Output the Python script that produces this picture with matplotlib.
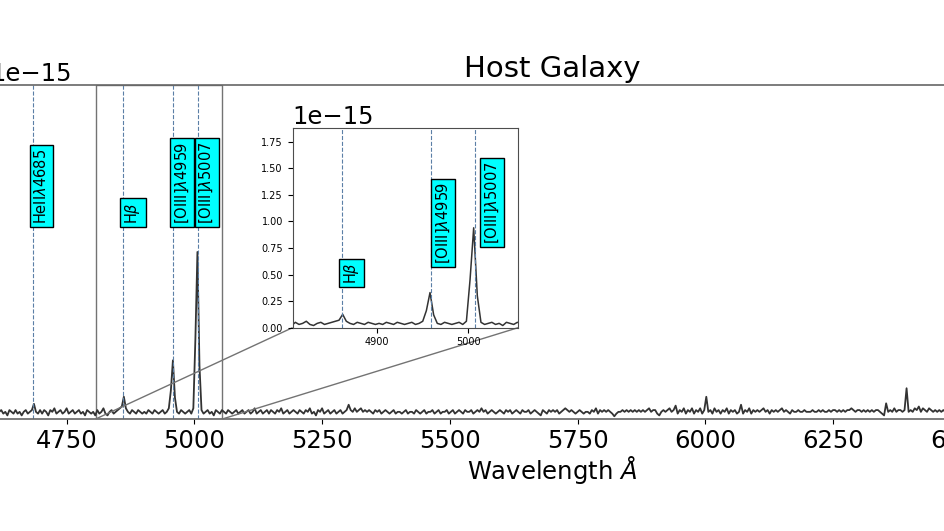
import numpy as np
import matplotlib
matplotlib.use("Agg")
import matplotlib.pyplot as plt
from mpl_toolkits.axes_grid1.inset_locator import mark_inset

# flux in units of 1e-15, sampled every 4 A starting at 4602 A
flux = [
    0.04, 0.03, 0.05, 0.02, 0.04, 0.05, 0.03, 0.04, 0.02, 0.05, 0.04, 0.03, 0.05, 0.03, 0.04, 0.02, 0.04, 0.05, 0.03, 0.04, 0.05, 0.085, 0.04, 0.03, 0.05,
    0.03, 0.05, 0.04, 0.02, 0.05, 0.04, 0.06, 0.03, 0.04, 0.05, 0.03, 0.04, 0.06, 0.03, 0.04, 0.05, 0.03, 0.04, 0.05, 0.03, 0.04, 0.02, 0.05, 0.04, 0.03,
    0.04, 0.02, 0.05, 0.03, 0.04, 0.06, 0.03, 0.02, 0.04, 0.05, 0.03, 0.04, 0.05, 0.06, 0.07, 0.125, 0.06, 0.04, 0.03, 0.05, 0.04, 0.03, 0.05, 0.04, 0.03,
    0.04, 0.03, 0.05, 0.04, 0.03, 0.05, 0.04, 0.03, 0.04, 0.05, 0.03, 0.04, 0.06, 0.16, 0.33, 0.12, 0.04, 0.03, 0.05, 0.04, 0.03, 0.04, 0.05, 0.03, 0.06,
    0.45, 0.94, 0.30, 0.05, 0.03, 0.04, 0.05, 0.03, 0.04, 0.02, 0.05, 0.04, 0.03, 0.05, 0.04, 0.03, 0.05, 0.04, 0.03, 0.04, 0.05, 0.03, 0.04, 0.05, 0.03,
    0.04, 0.05, 0.03, 0.04, 0.06, 0.03, 0.04, 0.05, 0.03, 0.04, 0.05, 0.03, 0.05, 0.04, 0.03, 0.05, 0.04, 0.06, 0.03, 0.04, 0.05, 0.03, 0.04, 0.05, 0.04,
    0.03, 0.05, 0.04, 0.03, 0.05, 0.04, 0.06, 0.03, 0.04, 0.02, 0.05, 0.04, 0.06, 0.03, 0.04, 0.05, 0.03, 0.04, 0.05, 0.03, 0.04, 0.05, 0.03, 0.04, 0.05,
    0.08, 0.05, 0.04, 0.06, 0.04, 0.05, 0.06, 0.04, 0.05, 0.04, 0.05, 0.04, 0.03, 0.05, 0.04, 0.05, 0.03, 0.04, 0.05, 0.04, 0.03, 0.04, 0.05, 0.03, 0.04,
    0.04, 0.03, 0.04, 0.05, 0.03, 0.04, 0.04, 0.03, 0.05, 0.04, 0.03, 0.04, 0.05, 0.03, 0.04, 0.04, 0.05, 0.03, 0.04, 0.05, 0.03, 0.04, 0.04, 0.05, 0.03,
    0.04, 0.05, 0.03, 0.04, 0.05, 0.04, 0.03, 0.05, 0.04, 0.04, 0.05, 0.03, 0.04, 0.05, 0.04, 0.06, 0.04, 0.05, 0.03, 0.04, 0.05, 0.04, 0.03, 0.04, 0.05,
    0.04, 0.03, 0.05, 0.04, 0.05, 0.03, 0.04, 0.05, 0.04, 0.03, 0.05, 0.04, 0.04, 0.05, 0.03, 0.04, 0.05, 0.04, 0.03, 0.02, 0.05, 0.04, 0.03, 0.05, 0.04,
    0.05, 0.04, 0.05, 0.03, 0.04, 0.05, 0.06, 0.05, 0.04, 0.05, 0.04, 0.03, 0.04, 0.05, 0.04, 0.03, 0.04, 0.04, 0.03, 0.05, 0.04, 0.06, 0.03, 0.05, 0.04,
    0.05, 0.04, 0.05, 0.04, 0.03, 0.015, 0.03, 0.04, 0.04, 0.05, 0.04, 0.05, 0.04, 0.05, 0.04, 0.05, 0.04, 0.05, 0.04, 0.05, 0.04, 0.05, 0.06, 0.04, 0.05,
    0.05, 0.03, 0.02, 0.04, 0.05, 0.04, 0.05, 0.06, 0.04, 0.05, 0.075, 0.03, 0.05, 0.04, 0.06, 0.03, 0.05, 0.04, 0.06, 0.03, 0.05, 0.04, 0.06, 0.03, 0.05,
    0.125, 0.04, 0.05, 0.03, 0.06, 0.04, 0.05, 0.03, 0.05, 0.04, 0.06, 0.03, 0.05, 0.04, 0.05, 0.03, 0.04, 0.08, 0.03, 0.05, 0.04, 0.06, 0.03, 0.05, 0.04,
    0.05, 0.04, 0.05, 0.06, 0.04, 0.05, 0.03, 0.05, 0.04, 0.05, 0.04, 0.05, 0.06, 0.04, 0.05, 0.04, 0.03, 0.05, 0.04, 0.04, 0.05, 0.04, 0.04, 0.05, 0.04,
    0.04, 0.04, 0.05, 0.04, 0.04, 0.05, 0.04, 0.05, 0.04, 0.04, 0.05, 0.04, 0.05, 0.05, 0.04, 0.05, 0.04, 0.05, 0.04, 0.05, 0.05, 0.06, 0.05, 0.04, 0.05,
    0.05, 0.04, 0.05, 0.04, 0.05, 0.04, 0.05, 0.04, 0.05, 0.05, 0.04, 0.03, 0.02, 0.088, 0.04, 0.05, 0.04, 0.06, 0.04, 0.05, 0.05, 0.04, 0.05, 0.173, 0.04,
    0.05, 0.04, 0.06, 0.05, 0.07, 0.04, 0.06, 0.05, 0.04, 0.06, 0.05, 0.04, 0.05, 0.04, 0.05, 0.04, 0.05, 0.04, 0.05, 0.04, 0.05, 0.04, 0.05, 0.04, 0.05,
]
wave = 4602 + 4 * np.arange(len(flux))
flux = np.array(flux) * 1e-15

# emission lines
line_wave = [4685, 4861, 4959, 5007]
line_names = [r'HeII$\lambda$4685', r'H$\beta$', r'[OIII]$\lambda$4959', r'[OIII]$\lambda$5007']
label_y_main = [1.10, 1.10, 1.10, 1.10]
inset_lines = [1, 2, 3]
label_x_inset = [4861, 4963, 5017]
label_y_inset = [0.41, 0.60, 0.79]

box = dict(boxstyle='square,pad=0.22', facecolor='cyan', edgecolor='k', linewidth=1)
dash_col = '#5b7fa6'
spec_col = '#333333'

fig = plt.figure(figsize=(9.44, 5.31), dpi=100)
ax = fig.add_axes([-10/944, 0.211, 1124/944, 0.629])
ax.plot(wave, flux, color=spec_col, lw=1.3)
ax.set_xlim(4600, 6800)
ax.set_ylim(0, 1.88e-15)
ax.set_xticks(np.arange(4750, 6800, 250))
for w, name, y in zip(line_wave, line_names, label_y_main):
    ax.axvline(w, color=dash_col, ls='--', lw=0.8)
    ax.text(w, y*1e-15, name, rotation=90, ha='left', va='bottom', fontsize=10.5, bbox=box)
ax.tick_params(labelsize=17.5)
ax.yaxis.get_offset_text().set_fontsize(17.5)
ax.set_title('Host Galaxy', fontsize=21)
ax.set_xlabel(r'Wavelength $\AA$', fontsize=17.5, labelpad=1)
for s in ax.spines.values():
    s.set_color('0.4')
    s.set_linewidth(1.2)

axins = fig.add_axes([0.310, 0.383, 0.239, 0.376])
axins.plot(wave, flux, color=spec_col, lw=1.1)
axins.set_xlim(4807, 5055)
axins.set_ylim(0, 1.88e-15)
axins.set_xticks([4900, 5000])
for i, x, y in zip(inset_lines, label_x_inset, label_y_inset):
    axins.axvline(line_wave[i], color=dash_col, ls='--', lw=0.8)
    axins.text(x, y*1e-15, line_names[i], rotation=90, ha='left', va='bottom', fontsize=10.5, bbox=box)
axins.tick_params(labelsize=7)
axins.yaxis.get_offset_text().set_fontsize(17.5)
for s in axins.spines.values():
    s.set_color('0.3')

mark_inset(ax, axins, loc1=3, loc2=4, fc='none', ec='0.45', lw=1)

fig.savefig('out.png', dpi=100)
